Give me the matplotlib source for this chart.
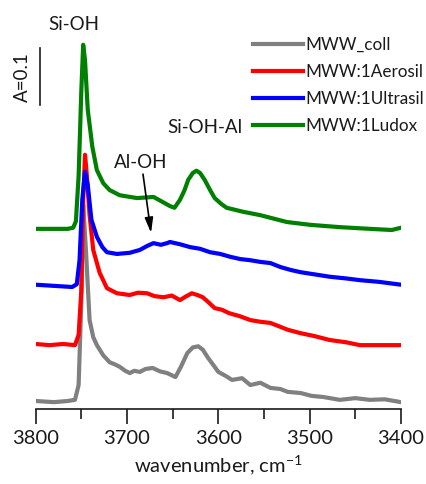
import numpy as np
import matplotlib
matplotlib.use("Agg")
import matplotlib.pyplot as plt

plt.rcParams["font.family"] = ["Lato", "DejaVu Sans"]
plt.rcParams["mathtext.fontset"] = "custom"
plt.rcParams["mathtext.rm"] = "Lato"

TEXT = "#1a1a1a"

# OH-stretching region, spectra relative to their own baseline (absorbance)
WN_COLL = [3800, 3780, 3765, 3757, 3753, 3750, 3748, 3745, 3741, 3737, 3733, 3726,
           3719, 3713, 3708, 3702, 3697, 3692, 3686, 3680, 3672, 3664, 3656, 3647,
           3641, 3634, 3628, 3622, 3617, 3611, 3605, 3600, 3592, 3585, 3574, 3565,
           3554, 3543, 3532, 3524, 3510, 3498, 3485, 3467, 3450, 3434, 3418, 3400]
A_COLL = [0.000, -0.002, 0.000, 0.002, 0.028, 0.177, 0.344, 0.265, 0.142, 0.112, 0.098,
          0.080, 0.068, 0.064, 0.060, 0.053, 0.049, 0.053, 0.051, 0.056, 0.058, 0.052,
          0.049, 0.042, 0.060, 0.084, 0.094, 0.096, 0.090, 0.075, 0.062, 0.051, 0.044,
          0.037, 0.040, 0.028, 0.032, 0.023, 0.021, 0.016, 0.014, 0.009, 0.007, 0.002,
          0.005, 0.002, 0.003, -0.002]

WN_AERO = [3800, 3785, 3770, 3757, 3753, 3750, 3748, 3746, 3744, 3741, 3737, 3730,
           3722, 3711, 3697, 3688, 3678, 3670, 3660, 3651, 3642, 3636, 3629, 3623,
           3617, 3610, 3604, 3596, 3588, 3577, 3565, 3554, 3543, 3524, 3510, 3495,
           3478, 3460, 3445, 3424, 3400]
A_AERO = [0.000, -0.002, 0.000, -0.002, 0.016, 0.095, 0.253, 0.332, 0.296, 0.226,
          0.165, 0.125, 0.098, 0.089, 0.086, 0.090, 0.089, 0.084, 0.082, 0.085, 0.077,
          0.083, 0.089, 0.086, 0.082, 0.072, 0.063, 0.060, 0.054, 0.049, 0.042, 0.039,
          0.037, 0.025, 0.019, 0.014, 0.007, 0.003, -0.002, -0.002, -0.002]

WN_ULTRA = [3800, 3780, 3760, 3755, 3752, 3749, 3746, 3743, 3739, 3733, 3727, 3722,
            3711, 3697, 3686, 3678, 3671, 3663, 3656, 3653, 3642, 3631, 3620, 3609,
            3598, 3587, 3576, 3565, 3554, 3543, 3532, 3521, 3510, 3494, 3478, 3460,
            3445, 3424, 3400]
A_ULTRA = [0.004, 0.002, 0.000, 0.005, 0.047, 0.153, 0.202, 0.179, 0.118, 0.088, 0.070,
           0.061, 0.058, 0.060, 0.065, 0.072, 0.077, 0.074, 0.077, 0.079, 0.075, 0.070,
           0.067, 0.061, 0.058, 0.053, 0.049, 0.047, 0.044, 0.042, 0.035, 0.030, 0.026,
           0.022, 0.018, 0.015, 0.012, 0.009, 0.004]

WN_LUDOX = [3800, 3780, 3765, 3759, 3756, 3753, 3750, 3748, 3746, 3743, 3738, 3733,
            3726, 3719, 3708, 3689, 3671, 3662, 3653, 3648, 3642, 3637, 3633, 3628,
            3624, 3620, 3615, 3609, 3604, 3597, 3591, 3573, 3554, 3525, 3499, 3467,
            3434, 3410, 3400]
A_LUDOX = [0.002, 0.002, 0.002, 0.004, 0.015, 0.095, 0.246, 0.325, 0.298, 0.211,
           0.146, 0.105, 0.082, 0.070, 0.061, 0.056, 0.058, 0.050, 0.042, 0.039, 0.053,
           0.070, 0.088, 0.100, 0.104, 0.100, 0.088, 0.070, 0.056, 0.046, 0.039, 0.032,
           0.026, 0.014, 0.009, 0.005, 0.002, 0.000, 0.004]

LABELS = ["MWW_coll", "MWW:1Aerosil", "MWW:1Ultrasil", "MWW:1Ludox"]
COLORS = ["#808080", "#ff0000", "#0000ff", "#008000"]
OFFSETS = [0.0, 0.1, 0.2, 0.3]

spectra = [(WN_COLL, A_COLL), (WN_AERO, A_AERO), (WN_ULTRA, A_ULTRA), (WN_LUDOX, A_LUDOX)]

fig = plt.figure(figsize=(4.26, 4.84), dpi=100)
ax = fig.add_axes([0.0838, 0.155, 0.8575, 0.845])

for (wn, a), lab, col, off in zip(spectra, LABELS, COLORS, OFFSETS):
    ax.plot(wn, np.asarray(a) + off, color=col, lw=3.0, label=lab,
            solid_joinstyle="round")

ax.set_xlim(3800, 3400)
ax.set_ylim(-0.014, 0.7035)
ax.set_xticks([3800, 3700, 3600, 3500, 3400])
ax.set_xticks([3750, 3650, 3550, 3450], minor=True)
ax.tick_params(axis="x", which="major", length=11, width=1.2, pad=4,
               labelsize=14.5, colors=TEXT)
ax.tick_params(axis="x", which="minor", length=7, width=1.2, colors=TEXT)
ax.set_yticks([])
for side in ["left", "right", "top"]:
    ax.spines[side].set_visible(False)
ax.spines["bottom"].set_linewidth(1.2)
ax.spines["bottom"].set_color(TEXT)
ax.set_xlabel("wavenumber, cm$^{-1}$", fontsize=14.5, color=TEXT, labelpad=5)

# absorbance scale bar
ax.plot([3795.5, 3795.5], [0.5185, 0.6185], color=TEXT, lw=1.2)
ax.text(3814, 0.5685, "A=0.1", rotation=90, ha="center", va="center",
        fontsize=13.5, color=TEXT)

ax.text(3758, 0.661, "Si-OH", ha="center", va="center", fontsize=13.5, color=TEXT)
ax.text(3615, 0.480, "Si-OH-Al", ha="center", va="center", fontsize=13.5, color=TEXT)
ax.text(3685, 0.419, "Al-OH", ha="center", va="center", fontsize=13.5, color=TEXT)
ax.annotate("", xy=(3673.7, 0.295), xytext=(3682.5, 0.398),
            arrowprops=dict(arrowstyle="-|>,head_length=0.9,head_width=0.25",
                            color="black", lw=1.2, shrinkA=0, shrinkB=0))

ax.legend(loc="upper left", bbox_to_anchor=(0.595, 0.91), frameon=False,
          fontsize=12.3, handlelength=2.9, handletextpad=0.18, labelspacing=0.65,
          borderaxespad=0, borderpad=0, labelcolor=TEXT)

fig.savefig("out.png", dpi=100)
